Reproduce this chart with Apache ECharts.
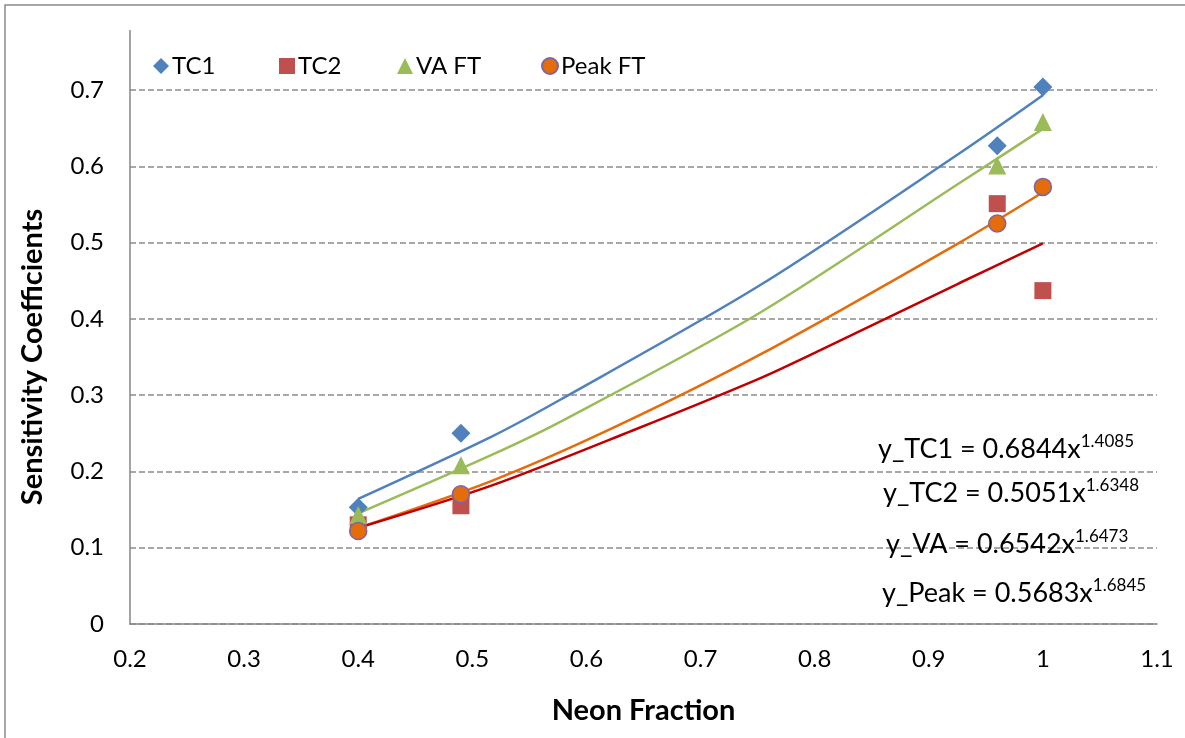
<!DOCTYPE html>
<html><head><meta charset="utf-8">
<script src="https://cdn.jsdelivr.net/npm/echarts@6/dist/echarts.min.js"></script>
<style>html,body{margin:0;padding:0;background:#fff}#c{width:1185px;height:738px}</style>
</head><body><div id="c"></div>
<script>
// Measured data points [neon fraction, coefficient]
const tc1 = [[0.4, 0.153], [0.49, 0.250], [0.96, 0.627], [1.0, 0.704]];
const tc2 = [[0.4, 0.130], [0.49, 0.155], [0.96, 0.551], [1.0, 0.437]];
const vaFT = [[0.4, 0.143], [0.49, 0.208], [0.96, 0.601], [1.0, 0.658]];
const peakFT = [[0.4, 0.122], [0.49, 0.170], [0.96, 0.525], [1.0, 0.573]];
// Power trendlines
const trendTC1 = [[0.4, 0.164], [0.516, 0.245], [0.577, 0.294], [0.752, 0.444], [0.927, 0.617], [1.0, 0.693]];
const trendTC2 = [[0.4, 0.126], [0.516, 0.181], [0.641, 0.254], [0.752, 0.322], [0.805, 0.359], [0.927, 0.447], [1.0, 0.499]];
const trendVA = [[0.4, 0.145], [0.516, 0.221], [0.577, 0.265], [0.752, 0.408], [0.927, 0.578], [1.0, 0.649]];
const trendPeak = [[0.4, 0.126], [0.516, 0.187], [0.619, 0.254], [0.752, 0.353], [0.927, 0.500], [1.0, 0.566]];
const equations = [
  ['y_TC1 = 0.6844x', '1.4085'],
  ['y_TC2 = 0.5051x', '1.6348'],
  ['y_VA = 0.6542x', '1.6473'],
  ['y_Peak = 0.5683x', '1.6845']
];
const seriesNames = ['TC1', 'TC2', 'VA FT', 'Peak FT'];

const FONT = 'Lato';
const C = { blue: '#4F81BD', red: '#C0504D', green: '#9BBB59', orange: '#E46C0A', purple: '#8064A2', darkred: '#C00000' };

const chart = echarts.init(document.getElementById('c'));
const legendLeft = [148, 274, 392, 536];
const legendIcons = ['diamond', 'rect', 'triangle', 'circle'];
const eqPos = [[878, 453], [883, 497], [886, 548], [882, 597]];

function lineSeries(name, data, color) {
  return { name, type: 'line', data, smooth: 0.3, symbol: 'none', clip: false,
    lineStyle: { color, width: 2.5 }, z: 2, silent: true };
}
function scatterSeries(name, data, symbol, size, color, extra) {
  return { name, type: 'scatter', data, symbol, symbolSize: size, clip: false, z: 3,
    itemStyle: Object.assign({ color, opacity: 1 }, extra || {}) };
}

chart.setOption({
  animation: false,
  backgroundColor: '#fff',
  textStyle: { fontFamily: FONT },
  grid: { left: 130, right: 28, top: 90, bottom: 114 },
  legend: seriesNames.map((n, i) => ({
    data: [{ name: n, icon: legendIcons[i] }], left: legendLeft[i], top: 49,
    itemWidth: 16, itemHeight: 16, itemGap: 0,
    textStyle: { fontFamily: FONT, fontSize: 24, color: '#000', padding: [0, 0, 0, -2] }
  })),
  xAxis: {
    type: 'value', min: 0.2, max: 1.1, interval: 0.1,
    name: 'Neon Fraction', nameLocation: 'middle', nameGap: 72,
    nameTextStyle: { fontFamily: FONT, fontSize: 29, fontWeight: 'bold', color: '#000' },
    axisLine: { onZero: false, lineStyle: { color: '#868686', width: 1.5 } },
    axisTick: { show: false },
    axisLabel: { fontFamily: FONT, fontSize: 24, color: '#000', margin: 23, formatter: v => (+v.toFixed(1)).toString() },
    splitLine: { show: false }
  },
  yAxis: {
    type: 'value', min: 0, max: 0.7, interval: 0.1,
    name: 'Sensitivity Coefficients', nameLocation: 'middle', nameGap: 83,
    nameTextStyle: { fontFamily: FONT, fontSize: 29, fontWeight: 'bold', color: '#000' },
    axisLine: { show: true, lineStyle: { color: '#868686', width: 1.5 } },
    axisTick: { show: false },
    axisLabel: { fontFamily: FONT, fontSize: 24, color: '#000', margin: 26, formatter: v => (+v.toFixed(1)).toString() },
    splitLine: { show: true, lineStyle: { color: '#8c8c8c', type: [6, 3], width: 1.5 } }
  },
  series: [
    lineSeries('trend TC1', trendTC1, C.blue),
    lineSeries('trend VA', trendVA, C.green),
    lineSeries('trend Peak', trendPeak, C.orange),
    lineSeries('trend TC2', trendTC2, C.darkred),
    scatterSeries('TC1', tc1, 'diamond', 19, C.blue),
    scatterSeries('TC2', tc2, 'rect', 17, C.red),
    scatterSeries('VA FT', vaFT, 'triangle', 18, C.green),
    scatterSeries('Peak FT', peakFT, 'circle', 17, C.orange, { borderColor: C.purple, borderWidth: 1.5 })
  ],
  graphic: [
    { type: 'rect', shape: { x: 5, y: 5, width: 1190, height: 745 }, style: { fill: 'none', stroke: '#8a8a8a', lineWidth: 1.5 }, silent: true },
    { type: 'line', shape: { x1: 130, y1: 30, x2: 130, y2: 90 }, style: { stroke: '#868686', lineWidth: 1.5 }, silent: true }
  ].concat(equations.map((e, i) => ({
    type: 'text', left: eqPos[i][0], top: eqPos[i][1] - 20, z: 10,
    style: {
      text: '{a|' + e[0] + '}{b|' + e[1] + '}',
      rich: {
        a: { fontFamily: FONT, fontSize: 27, fill: '#000', color: '#000' },
        b: { fontFamily: FONT, fontSize: 17, fill: '#000', color: '#000', padding: [0, 0, 16, 0] }
      }
    }
  })))
});
</script></body></html>
